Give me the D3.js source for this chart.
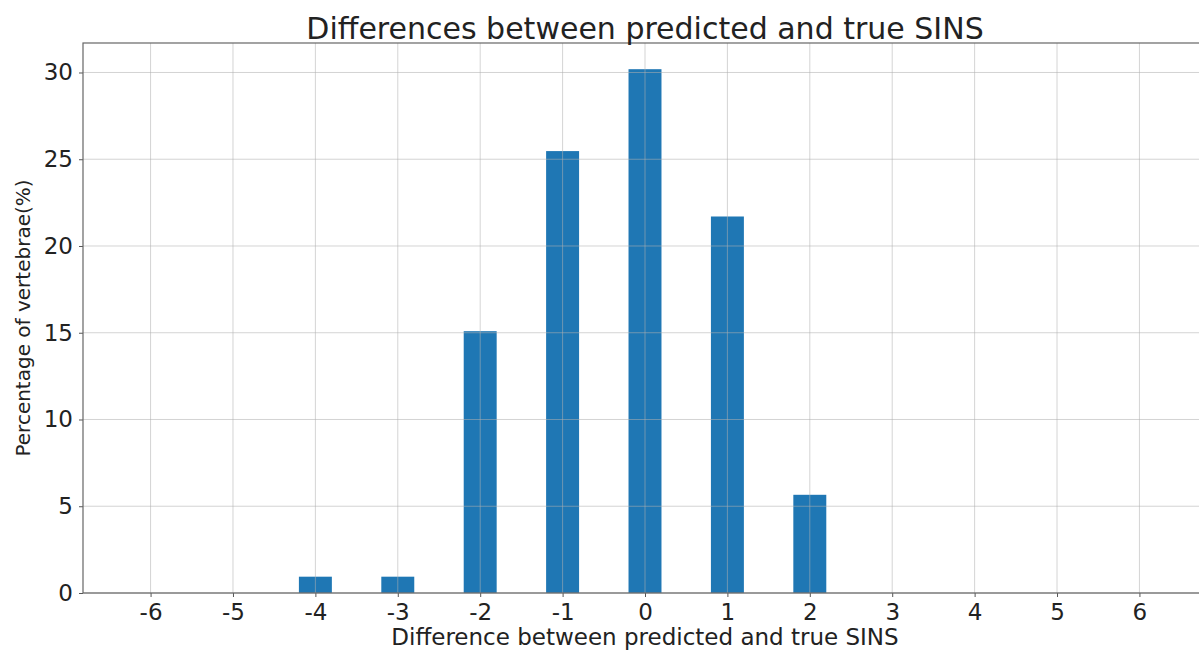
<!DOCTYPE html>
<html>
<head>
<meta charset="utf-8">
<script src="https://cdn.jsdelivr.net/npm/d3@7"></script>
<style>
  html, body { margin: 0; padding: 0; background: #fff; }
  svg { display: block; font-family: "DejaVu Sans", sans-serif; }
</style>
</head>
<body>
<svg id="chart" width="1199" height="651"></svg>
<script>
// Difference between predicted and true SINS (integer steps)
const differences = [-6, -5, -4, -3, -2, -1, 0, 1, 2, 3, 4, 5, 6];
// Share of vertebrae at each difference, in percent
const percentages = [0, 0, 0.94, 0.94, 15.09, 25.47, 30.19, 21.70, 5.66, 0, 0, 0, 0];
const yTicks = [0, 5, 10, 15, 20, 25, 30];

const titleText = "Differences between predicted and true SINS";
const xLabelText = "Difference between predicted and true SINS";
const yLabelText = "Percentage of vertebrae(%)";

const svg = d3.select("#chart");
const margin = { left: 83, top: 43, right: -8, bottom: 58 };
const W = 1199, H = 651;
const plotW = W - margin.left - margin.right;
const plotH = H - margin.top - margin.bottom;

const barWidth = 0.4;
const xMin = d3.min(differences) - barWidth / 2;
const xMax = d3.max(differences) + barWidth / 2;
const xPad = (xMax - xMin) * 0.05;
const x = d3.scaleLinear().domain([xMin - xPad, xMax + xPad]).range([0, plotW]);
const yMax = d3.max(percentages) * 1.05;
const y = d3.scaleLinear().domain([0, yMax]).range([plotH, 0]);

const g = svg.append("g").attr("transform", `translate(${margin.left},${margin.top})`);

// bars
g.selectAll("rect.bar")
  .data(differences.map((d, i) => ({ d, v: percentages[i] })))
  .enter().append("rect")
  .attr("class", "bar")
  .attr("x", p => x(p.d - barWidth / 2))
  .attr("width", p => x(p.d + barWidth / 2) - x(p.d - barWidth / 2))
  .attr("y", p => y(p.v))
  .attr("height", p => plotH - y(p.v))
  .attr("fill", "#1f77b4");

// grid, drawn over the bars
const grid = g.append("g").attr("stroke", "#b0b0b0").attr("stroke-opacity", 0.55).attr("stroke-width", 1);
grid.selectAll("line.gx").data(differences).enter().append("line")
  .attr("x1", d => x(d)).attr("x2", d => x(d))
  .attr("y1", 0).attr("y2", plotH);
grid.selectAll("line.gy").data(yTicks).enter().append("line")
  .attr("x1", 0).attr("x2", plotW)
  .attr("y1", d => y(d)).attr("y2", d => y(d));

// axes
const xAxis = d3.axisBottom(x).tickValues(differences).tickSize(4).tickPadding(7)
  .tickFormat(d => d < 0 ? "-" + Math.abs(d) : String(d));
const yAxis = d3.axisLeft(y).tickValues(yTicks).tickSize(4).tickPadding(6);

const gx = g.append("g").attr("transform", `translate(0,${plotH})`).call(xAxis);
const gy = g.append("g").call(yAxis);
[gx, gy].forEach(a => {
  a.select(".domain").remove();
  a.selectAll(".tick line").attr("stroke", "#555");
  a.selectAll(".tick text").attr("font-size", 23).attr("fill", "#222")
    .attr("font-family", "DejaVu Sans, sans-serif");
});

// frame
g.append("rect").attr("x", 0).attr("y", 0).attr("width", plotW).attr("height", plotH)
  .attr("fill", "none").attr("stroke", "#666").attr("stroke-width", 1.2);

// title and labels
svg.append("text").attr("x", margin.left + plotW / 2).attr("y", 39)
  .attr("text-anchor", "middle").attr("font-size", 30).attr("fill", "#222").text(titleText);
svg.append("text").attr("x", margin.left + plotW / 2).attr("y", 645)
  .attr("text-anchor", "middle").attr("font-size", 23).attr("fill", "#222").text(xLabelText);
svg.append("text").attr("transform", `translate(30,${margin.top + plotH / 2}) rotate(-90)`)
  .attr("text-anchor", "middle").attr("font-size", 20).attr("fill", "#222").text(yLabelText);
</script>
</body>
</html>
